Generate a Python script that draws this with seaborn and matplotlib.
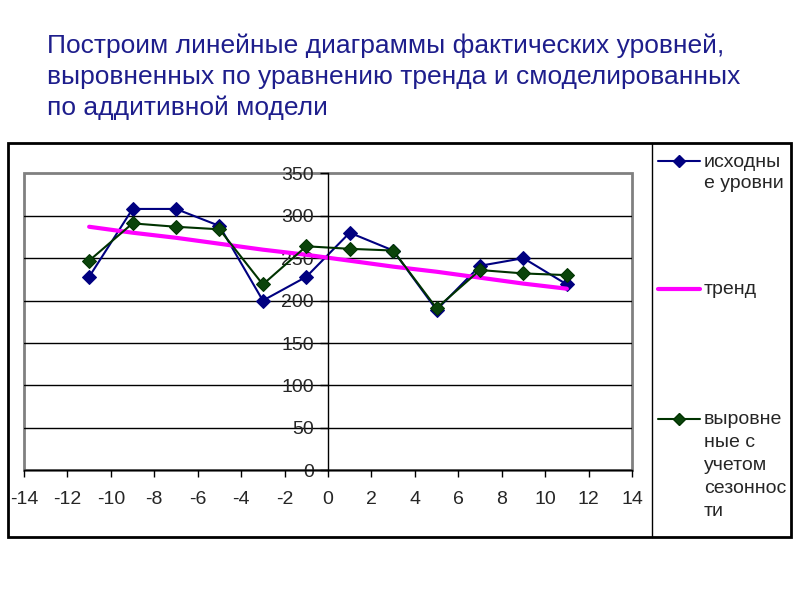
import numpy as np
import pandas as pd
import matplotlib.pyplot as plt
import seaborn as sns
from matplotlib.lines import Line2D
from matplotlib.patches import Rectangle

# ------------------------------
# Data
# ------------------------------
t = [-11, -9, -7, -5, -3, -1, 1, 3, 5, 7, 9, 11]
ishodnye = [228, 308, 308, 288, 200, 228, 280, 259, 189, 241, 250, 219]
trend = [287, 280, 274, 267, 260, 254, 247, 240, 234, 227, 220, 214]
vyrovnennye = [247, 291, 287, 284, 219, 264, 261, 259, 191, 236, 232, 230]

x_ticks = list(range(-14, 15, 2))
y_ticks = list(range(0, 351, 50))

title_lines = [
    "Построим линейные диаграммы фактических уровней,",
    "выровненных по уравнению тренда и смоделированных",
    "по аддитивной модели",
]
leg_ishod = ["исходны", "е уровни"]
leg_trend = ["тренд"]
leg_vyr = ["выровне", "ные с", "учетом", "сезоннос", "ти"]

BLUE = "#000080"
MAGENTA = "#ff00ff"
GREEN = "#003300"
GREEN_M = "#0a440a"
TITLE_C = "#1e1e8c"

sns.set_style("white")
plt.rcParams["font.family"] = ["Liberation Sans", "DejaVu Sans"]
plt.rcParams["axes.unicode_minus"] = False

W, H = 800, 600
fig = plt.figure(figsize=(8, 6), dpi=100)


def fx(px):
    return px / W


def fy(py):
    return 1 - py / H


# title
for i, line in enumerate(title_lines):
    fig.text(fx(47), fy(53 + 31 * i), line, fontsize=19, color=TITLE_C, va="baseline")

# outer chart frame + legend separator
fig.add_artist(Rectangle((fx(8), fy(537)), fx(791) - fx(8), fy(142.5) - fy(537),
                         transform=fig.transFigure, fill=False, lw=2, ec="black"))
fig.add_artist(Line2D([fx(652), fx(652)], [fy(142.5), fy(537)],
                      transform=fig.transFigure, color="black", lw=1))

# plot area
ax = fig.add_axes([fx(24), fy(470.3), fx(632) - fx(24), fy(173.3) - fy(470.3)])
ax.patch.set_edgecolor("#808080")
ax.patch.set_linewidth(2)

sns.lineplot(x=t, y=ishodnye, ax=ax, color=BLUE, lw=1.5, marker="D", markersize=7,
             markerfacecolor=BLUE, markeredgecolor=BLUE)
sns.lineplot(x=t, y=trend, ax=ax, color=MAGENTA, lw=3)
sns.lineplot(x=t, y=vyrovnennye, ax=ax, color=GREEN, lw=1.5, marker="D", markersize=7,
             markerfacecolor=GREEN_M, markeredgecolor=GREEN)

ax.set_xlim(-14, 14)
ax.set_ylim(0, 350)
ax.set_xticks(x_ticks)
ax.set_yticks(y_ticks)
ax.set_xlabel("")
ax.set_ylabel("")

ax.spines["top"].set_visible(False)
ax.spines["right"].set_visible(False)
ax.spines["left"].set_position(("data", 0))
ax.spines["left"].set_color("black")
ax.spines["bottom"].set_color("black")
ax.spines["left"].set_linewidth(1)
ax.spines["bottom"].set_linewidth(1)

ax.set_axisbelow(True)
ax.yaxis.grid(True, color="black", lw=1)
ax.get_ygridlines()[-1].set_visible(False)

ax.tick_params(axis="x", direction="out", length=5, width=1, color="black",
               labelsize=14, pad=10, bottom=True)
ax.tick_params(axis="y", direction="out", length=6, width=1, color="black",
               labelsize=14, pad=4, left=True)

# ------------------------------
# Legend (Excel-style, handle on the first text line)
# ------------------------------
def legend_entry(y_handle, y_base, lines, spacing, color, lw, marker=None, mfc=None):
    if marker:
        h = Line2D([fx(658), fx(679), fx(700)], [fy(y_handle)] * 3, transform=fig.transFigure,
                   color=color, lw=lw, marker=marker, markevery=[1], markersize=6.5,
                   markerfacecolor=mfc, markeredgecolor=color)
    else:
        h = Line2D([fx(658), fx(700)], [fy(y_handle)] * 2, transform=fig.transFigure,
                   color=color, lw=lw)
    fig.add_artist(h)
    for i, s in enumerate(lines):
        fig.text(fx(704), fy(y_base + spacing * i), s, fontsize=14, va="baseline")


legend_entry(160.5, 166.5, leg_ishod, 21, BLUE, 1.5, "D", BLUE)
legend_entry(289, 294, leg_trend, 0, MAGENTA, 3)
legend_entry(419, 424, leg_vyr, 23, GREEN, 1.5, "D", GREEN_M)

fig.savefig("out.png", dpi=100)
